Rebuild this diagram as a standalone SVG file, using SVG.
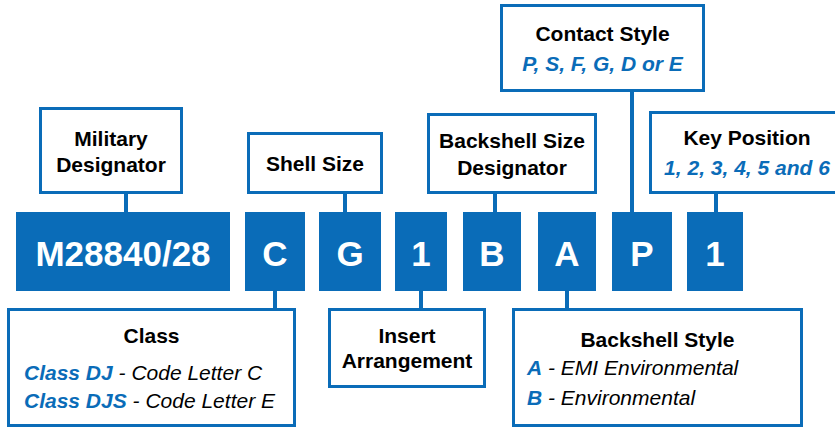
<svg xmlns="http://www.w3.org/2000/svg" width="835" height="428" viewBox="0 0 835 428">
<style>
.box{fill:#fff;stroke:#0a6cb8;stroke-width:3}
.blk{fill:#0a6cb8}
.conn line{stroke:#0a6cb8;stroke-width:4}
text{font-family:"Liberation Sans",Arial,sans-serif}
.code{font-size:35px;font-weight:bold;fill:#fff;text-anchor:middle}
.lbl{font-size:21px;font-weight:bold;fill:#000;text-anchor:middle}
.val{font-size:21px;font-weight:bold;font-style:italic;fill:#0a6cb8}
.desc{font-size:21px;font-style:italic;fill:#000;font-weight:normal}
</style>
<rect width="835" height="428" fill="#fff"/>
<g class="conn">
<line x1="126" y1="193" x2="126" y2="213"/>
<line x1="345" y1="193" x2="345" y2="213"/>
<line x1="495" y1="193" x2="495" y2="213"/>
<line x1="632" y1="91" x2="632" y2="213"/>
<line x1="716" y1="193" x2="716" y2="213"/>
<line x1="275" y1="290" x2="275" y2="309"/>
<line x1="421" y1="290" x2="421" y2="309"/>
<line x1="567" y1="290" x2="567" y2="309"/>
</g>
<g id="military-designator">
<rect class="box" x="40.5" y="108.5" width="141" height="84"/>
<text class="lbl" x="111" y="146">Military</text>
<text class="lbl" x="111" y="172">Designator</text>
</g>
<g id="shell-size">
<rect class="box" x="248.5" y="133.5" width="133" height="59"/>
<text class="lbl" x="315" y="171">Shell Size</text>
</g>
<g id="backshell-size-designator">
<rect class="box" x="428.5" y="114.5" width="167" height="78"/>
<text class="lbl" x="512" y="148">Backshell Size</text>
<text class="lbl" x="512" y="175">Designator</text>
</g>
<g id="contact-style">
<rect class="box" x="501.5" y="5.5" width="202" height="85"/>
<text class="lbl" x="602.5" y="41">Contact Style</text>
<text class="val" x="602.5" y="71" text-anchor="middle">P, S, F, G, D or E</text>
</g>
<g id="key-position">
<rect class="box" x="650.5" y="112.5" width="194" height="80"/>
<text class="lbl" x="747" y="145">Key Position</text>
<text class="val" x="747" y="175" text-anchor="middle">1, 2, 3, 4, 5 and 6</text>
</g>
<g id="code-m28840">
<rect class="blk" x="16" y="212" width="214" height="79"/>
<text class="code" x="123" y="266">M28840/28</text>
</g>
<g id="code-c">
<rect class="blk" x="245" y="212" width="60" height="79"/>
<text class="code" x="275" y="266">C</text>
</g>
<g id="code-g">
<rect class="blk" x="319" y="212" width="62" height="79"/>
<text class="code" x="350" y="266">G</text>
</g>
<g id="code-1a">
<rect class="blk" x="395" y="212" width="52" height="79"/>
<text class="code" x="421" y="266">1</text>
</g>
<g id="code-b">
<rect class="blk" x="463" y="212" width="58" height="79"/>
<text class="code" x="492" y="266">B</text>
</g>
<g id="code-a">
<rect class="blk" x="538" y="212" width="58" height="79"/>
<text class="code" x="567" y="266">A</text>
</g>
<g id="code-p">
<rect class="blk" x="612" y="212" width="60" height="79"/>
<text class="code" x="642" y="266">P</text>
</g>
<g id="code-1b">
<rect class="blk" x="687" y="212" width="56" height="79"/>
<text class="code" x="715" y="266">1</text>
</g>
<g id="class">
<rect class="box" x="8.5" y="309.5" width="286" height="116"/>
<text class="lbl" x="151.5" y="343">Class</text>
<text class="val" x="24" y="380">Class DJ<tspan class="desc"> - Code Letter C</tspan></text>
<text class="val" x="24" y="408">Class DJS<tspan class="desc"> - Code Letter E</tspan></text>
</g>
<g id="insert-arrangement">
<rect class="box" x="329.5" y="309.5" width="155" height="77"/>
<text class="lbl" x="407" y="343">Insert</text>
<text class="lbl" x="407" y="368">Arrangement</text>
</g>
<g id="backshell-style">
<rect class="box" x="513.5" y="309.5" width="288" height="116"/>
<text class="lbl" x="657.5" y="347">Backshell Style</text>
<text class="val" x="527" y="375">A<tspan class="desc"> - EMI Environmental</tspan></text>
<text class="val" x="527" y="405">B<tspan class="desc"> - Environmental</tspan></text>
</g>
</svg>
